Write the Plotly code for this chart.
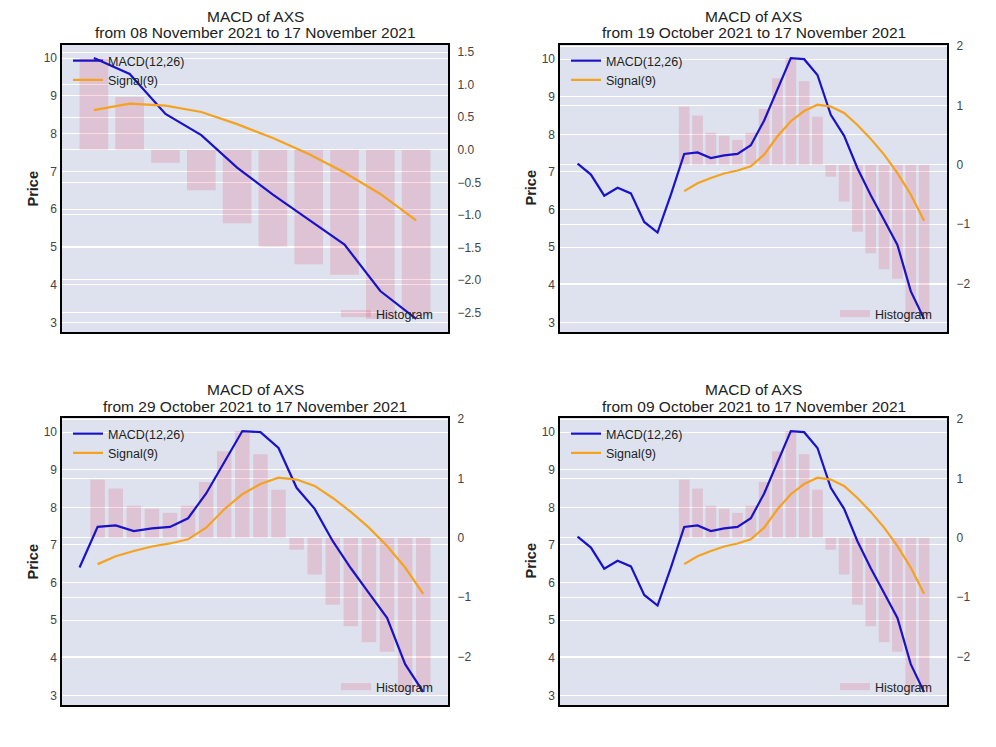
import pandas as pd
import plotly.graph_objects as go

# ---------------- data ----------------
dates = pd.date_range("2021-10-22", "2021-11-17", freq="D")
macd = [7.22, 6.93, 6.37, 6.58, 6.43, 5.67, 5.39, 6.40, 7.48, 7.52,
        7.37, 7.44, 7.48, 7.71, 8.37, 9.20, 10.03, 10.00, 9.58, 8.52,
        7.96, 7.10, 6.38, 5.72, 5.06, 3.83, 3.09]
signal = [None] * 8 + [6.49, 6.70, 6.84, 6.96, 7.04, 7.15, 7.46, 7.95, 8.35,
                       8.62, 8.79, 8.74, 8.57, 8.25, 7.88, 7.46, 6.97, 6.40, 5.70]
hist = [None] * 8 + [0.98, 0.83, 0.54, 0.49, 0.42, 0.54, 0.94, 1.46, 1.80,
                     1.41, 0.81, -0.20, -0.62, -1.13, -1.49, -1.76, -1.92, -2.60, -2.55]
panel_starts = ["2021-11-08", "2021-10-19", "2021-10-29", "2021-10-09"]
end_date = "2021-11-17"
hist_tick_steps = [0.5, 1, 1, 1]
hist_tick_formats = [".1f", "d", "d", "d"]

df = pd.DataFrame({"date": dates, "macd": macd, "signal": signal, "hist": hist})

# ---------------- layout geometry (pixels) ----------------
W, H = 996, 747
boxes = [(62, 448, 45, 332), (560, 947, 45, 332), (62, 448, 418, 705), (560, 947, 418, 705)]

BLUE = "#1a12c8"
ORANGE = "#f5a21e"
PINK = "rgba(220,20,60,0.15)"
TXT = "#222222"
TICK = "#444444"
FONT = "Liberation Sans, Arial, sans-serif"
BAR_W = pd.Timedelta(hours=0.8 * 24)


def px_x(p):
    return p / W


def px_y(p):
    return 1 - p / H


def pad_range(lo, hi, frac=0.05):
    span = hi - lo
    return [lo - frac * span, hi + frac * span]


fig = go.Figure()
layout = dict(
    width=W, height=H, margin=dict(l=0, r=0, t=0, b=0, pad=0, autoexpand=False),
    paper_bgcolor="white", plot_bgcolor="#dde2ee",
    font=dict(family=FONT, color=TXT), showlegend=True,
)
annotations = []

for k, start in enumerate(panel_starts):
    x0, x1, y0, y1 = boxes[k]
    sub = df[df["date"] >= pd.Timestamp(start)]
    d = sub["date"]
    xa = "x" if k == 0 else f"x{k + 1}"
    xkey = "xaxis" if k == 0 else f"xaxis{k + 1}"
    ib, il = 2 * k + 1, 2 * k + 2
    yb = "y" if ib == 1 else f"y{ib}"
    ybkey = "yaxis" if ib == 1 else f"yaxis{ib}"
    yl = f"y{il}"
    ylkey = f"yaxis{il}"
    leg_lines = "legend" if k == 0 else f"legend{2 * k + 1}"
    leg_hist = f"legend{2 * k + 2}"

    # histogram bars on the right-hand (base) axis
    fig.add_trace(go.Bar(
        x=d, y=sub["hist"], xaxis=xa, yaxis=yb, marker=dict(color=PINK, line=dict(width=0)),
        width=BAR_W.total_seconds() * 1000, showlegend=False, name="Histogram", hoverinfo="skip",
    ))
    fig.add_trace(go.Scatter(
        x=[None], y=[None], xaxis=xa, yaxis=yb, mode="lines", name="Histogram",
        line=dict(color=PINK, width=7), legend=leg_hist, showlegend=True,
    ))
    # MACD and signal lines on the left (overlay) axis
    fig.add_trace(go.Scatter(
        x=d, y=sub["macd"], xaxis=xa, yaxis=yl, mode="lines", name="MACD(12,26)",
        line=dict(color=BLUE, width=2.2), legend=leg_lines,
    ))
    fig.add_trace(go.Scatter(
        x=d, y=sub["signal"], xaxis=xa, yaxis=yl, mode="lines", name="Signal(9)",
        line=dict(color=ORANGE, width=2.2), legend=leg_lines,
    ))

    # x extent = line points plus the half-widths of the drawn bars, padded by 5 %
    bar_dates = sub.loc[sub["hist"].notna(), "date"]
    lo = min(d.min(), bar_dates.min() - BAR_W / 2)
    hi = max(d.max(), bar_dates.max() + BAR_W / 2)
    span = hi - lo
    xr = [lo - 0.05 * span, hi + 0.05 * span]
    lines_vals = pd.concat([sub["macd"], sub["signal"]]).dropna()
    lr = pad_range(lines_vals.min(), lines_vals.max())
    hv = sub["hist"].dropna()
    hr = pad_range(min(hv.min(), 0), max(hv.max(), 0))

    layout[xkey] = dict(
        domain=[px_x(x0), px_x(x1)], anchor=yb, range=xr, type="date",
        showticklabels=False, showgrid=False, zeroline=False, ticks="",
        showline=True, mirror=True, linecolor="black", linewidth=2,
    )
    layout[ybkey] = dict(
        domain=[px_y(y1), px_y(y0)], anchor=xa, side="right", range=hr,
        tick0=0, dtick=hist_tick_steps[k], tickformat=hist_tick_formats[k],
        showgrid=True, gridcolor="white", gridwidth=1, zeroline=False, ticks="",
        ticklabelstandoff=5, tickfont=dict(size=12, color=TICK, family=FONT),
        showline=True, mirror=True, linecolor="black", linewidth=2,
    )
    layout[ylkey] = dict(
        overlaying=yb, anchor=xa, side="left", range=lr, tick0=0, dtick=1,
        showgrid=True, gridcolor="white", gridwidth=1, zeroline=False, ticks="",
        ticklabelstandoff=4, tickfont=dict(size=12, color=TICK, family=FONT),
        showline=False,
    )

    legend_common = dict(bgcolor="rgba(0,0,0,0)", borderwidth=0,
                         font=dict(size=12.5, color=TXT, family=FONT),
                         xref="paper", yref="paper", orientation="v")
    layout[leg_lines] = dict(legend_common, x=px_x(x0 + 6), y=px_y(y0 + 1),
                             xanchor="left", yanchor="top")
    layout[leg_hist] = dict(legend_common, x=px_x(x1 - 112), y=px_y(y1 - 18),
                            xanchor="left", yanchor="middle")

    cx = (x0 + x1) / 2
    annotations.append(dict(
        text="MACD of AXS", x=px_x(cx), y=px_y(y0 - 29), xref="paper", yref="paper",
        showarrow=False, xanchor="center", yanchor="middle",
        font=dict(size=15.5, color=TXT, family=FONT)))
    annotations.append(dict(
        text=f"from {pd.Timestamp(start):%d %B %Y} to {pd.Timestamp(end_date):%d %B %Y}",
        x=px_x(cx), y=px_y(y0 - 12), xref="paper", yref="paper",
        showarrow=False, xanchor="center", yanchor="middle",
        font=dict(size=15.5, color=TXT, family=FONT)))
    annotations.append(dict(
        text="<b>Price</b>", x=px_x(x0 - 30), y=px_y((y0 + y1) / 2), xref="paper", yref="paper",
        showarrow=False, xanchor="center", yanchor="middle", textangle=-90,
        font=dict(size=14.5, color=TXT, family=FONT)))

layout["annotations"] = annotations
fig.update_layout(**layout)
fig.write_html("out.html")
